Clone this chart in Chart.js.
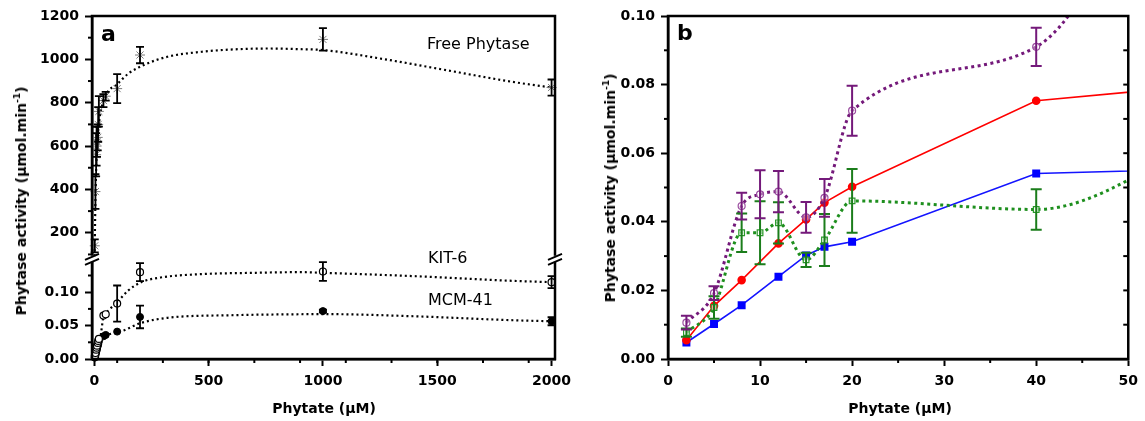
<!DOCTYPE html>
<html><head><meta charset="utf-8">
<script src="https://cdn.jsdelivr.net/npm/chart.js@4.4.1/dist/chart.umd.min.js"></script>
<style>
html,body{margin:0;padding:0;background:#fff}
body{width:1145px;height:421px;overflow:hidden;position:relative;font-family:'DejaVu Sans',sans-serif;color:#000}
#ca{position:absolute;left:0;top:0}
#cb{position:absolute;left:580px;top:0}
.t{position:absolute;white-space:nowrap;line-height:1;z-index:2}
.yt{font-weight:bold;font-size:14px;transform:translate(-50%,-50%) rotate(-90deg)}
.xt{font-weight:bold;font-size:14px;transform:translate(-50%,-50%)}
.yt sup{font-size:9px;vertical-align:6px;line-height:0}
.ann{font-size:16px}
.pl{font-size:22px;font-weight:bold}
</style></head><body>
<canvas id="ca" width="580" height="421"></canvas>
<canvas id="cb" width="565" height="421"></canvas>
<div class="t yt" style="left:21px;top:201px">Phytase activity (µmol.min<sup>-1</sup>)</div>
<div class="t yt" style="left:610px;top:188px">Phytase activity (µmol.min<sup>-1</sup>)</div>
<div class="t xt" style="left:324px;top:408px">Phytate (µM)</div>
<div class="t xt" style="left:900px;top:408px">Phytate (µM)</div>
<div class="t pl" style="left:101px;top:23px">a</div>
<div class="t pl" style="left:677px;top:22px">b</div>
<div class="t ann" style="left:427px;top:36px">Free Phytase</div>
<div class="t ann" style="left:428px;top:250px">KIT-6</div>
<div class="t ann" style="left:428px;top:292px">MCM-41</div>
<script>
// ---------- Panel a data ----------
const aX = [2,5,8,10,12,15,17,20,40,50,100,200,1000,2000];
const freeY = [140,390,560,600,620,640,700,760,810,830,865,1020,1092,870];
const freeErr = [30,80,100,90,70,60,80,70,30,20,67,38,52,37];
const kitY = [0.004,0.009,0.014,0.017,0.020,0.024,0.027,0.030,0.065,0.067,0.083,0.130,0.131,0.115];
const kitErr = [0,0,0,0,0,0,0,0,0,0,0.027,0.0135,0.014,0.009];
const mcmY = [0.002,0.005,0.009,0.012,0.015,0.019,0.022,0.026,0.034,0.036,0.041,0.063,0.0717,0.0565];
const mcmErr = [0,0,0,0,0,0,0,0,0,0,0,0.017,0.002,0.006];
const freeFitX = [0,5,10,20,50,100,150,230,320,470,610,760,900,1000,1250,1540,1830,2000];
const freeFitY = [0,350,550,700,830,885,935,980,1012,1035,1046,1050,1047,1043,1004,950,896,870];
const kitFitX = [0,20,30,40,60,100,150,205,290,466,700,900,1000,1400,1830,2000];
const kitFitY = [0,0.015,0.04,0.063,0.072,0.085,0.103,0.115,0.122,0.127,0.129,0.130,0.129,0.124,0.117,0.115];
const mcmFitX = [0,10,20,50,100,118,205,321,611,902,1000,1395,1832,2000];
const mcmFitY = [0,0.012,0.022,0.034,0.040,0.0414,0.054,0.0617,0.0656,0.067,0.0672,0.064,0.058,0.0565];
const aXTicks = [0,500,1000,1500,2000];

// ---------- Panel b data ----------
const rbX = [2,5,8,12,15,17,20,40,60];
const redY = [0.0055,0.0155,0.023,0.0337,0.0407,0.0456,0.0502,0.0753,0.0803];
const blueY = [0.0048,0.0102,0.0157,0.024,0.0302,0.0327,0.0342,0.0541,0.0555];
const pgX = [2,5,8,10,12,15,17,20,40,60];
const purpleY = [0.0106,0.0192,0.0446,0.048,0.0488,0.0413,0.047,0.0724,0.091,0.19];
const purpleErr = [0.002,0.002,0.0039,0.007,0.006,0.0045,0.0055,0.0073,0.0056,0];
const greenY = [0.0077,0.015,0.0368,0.0368,0.0397,0.0289,0.0347,0.0461,0.0436,0.0665];
const greenErr = [0.0012,0.0033,0.0056,0.0092,0.006,0.0021,0.0076,0.0093,0.0059,0];

const pts = (xs, ys) => xs.map((x, i) => ({x, y: ys[i]}));
const tickFont = {family: 'DejaVu Sans', size: 14, weight: 'bold'};

const errPlugin = {
  id: 'errbars',
  afterDatasetsDraw(chart, args, opts) {
    const ctx = chart.ctx, ca = chart.chartArea;
    (opts.sets || []).forEach(s => {
      const xs = chart.scales[s.x], ys = chart.scales[s.y];
      ctx.save();
      ctx.beginPath();
      const top = ys.top <= ca.top + 1 ? ca.top - 10 : ys.top;
      const bot = ys.bottom >= ca.bottom - 1 ? ca.bottom + 10 : ys.bottom;
      ctx.rect(ca.left - 10, top, ca.right - ca.left + 20, bot - top);
      ctx.clip();
      ctx.strokeStyle = s.color; ctx.lineWidth = s.width;
      s.xv.forEach((xv, i) => {
        const e = s.err[i]; if (!e) return;
        const px = xs.getPixelForValue(xv);
        const y1 = ys.getPixelForValue(s.yv[i] + e), y2 = ys.getPixelForValue(s.yv[i] - e);
        ctx.beginPath();
        ctx.moveTo(px, y1); ctx.lineTo(px, y2);
        ctx.moveTo(px - s.cap / 2, y1); ctx.lineTo(px + s.cap / 2, y1);
        ctx.moveTo(px - s.cap / 2, y2); ctx.lineTo(px + s.cap / 2, y2);
        ctx.stroke();
      });
      ctx.restore();
    });
  }
};

const minorPlugin = {
  id: 'minor',
  afterDraw(chart, args, opts) {
    const ctx = chart.ctx, ca = chart.chartArea;
    ctx.save(); ctx.strokeStyle = '#000'; ctx.lineWidth = 2;
    (opts.items || []).forEach(it => {
      const sc = chart.scales[it.scale];
      for (let k = 0; ; k++) {
        const v = it.from + k * it.step;
        if (v > it.to + 1e-9) break;
        const p = sc.getPixelForValue(v);
        ctx.beginPath();
        if (it.side === 'bottom') { ctx.moveTo(p, ca.bottom); ctx.lineTo(p, ca.bottom + it.len); }
        else if (it.side === 'left') { ctx.moveTo(ca.left, p); ctx.lineTo(ca.left - it.len, p); }
        else if (it.side === 'right') { ctx.moveTo(ca.right, p); ctx.lineTo(ca.right - it.len, p); }
        ctx.stroke();
      }
    });
    ctx.restore();
  }
};

const framePlugin = {
  id: 'frame',
  afterDraw(chart, args, opts) {
    const ctx = chart.ctx, ca = chart.chartArea;
    ctx.save(); ctx.strokeStyle = '#000'; ctx.lineWidth = 2.5;
    ctx.strokeRect(ca.left, ca.top, ca.right - ca.left, ca.bottom - ca.top);
    if (opts.breakScale) {
      const b = chart.scales[opts.breakScale].bottom;
      [ca.left, ca.right].forEach(x => {
        ctx.fillStyle = '#fff';
        ctx.fillRect(x - 3, b - 3, 6, 6);
        ctx.lineWidth = 2;
        ctx.beginPath();
        ctx.moveTo(x - 7, b + 1); ctx.lineTo(x + 7, b - 5);
        ctx.moveTo(x - 7, b + 6); ctx.lineTo(x + 7, b);
        ctx.stroke();
      });
    }
    ctx.restore();
  }
};

const segClip = {
  id: 'segclip',
  beforeDatasetDraw(chart, args) {
    const ys = args.meta.yScale, ca = chart.chartArea, ctx = chart.ctx;
    const top = ys.top <= ca.top + 1 ? ca.top - 10 : ys.top;
    const bot = ys.bottom >= ca.bottom - 1 ? ca.bottom + 10 : ys.bottom;
    ctx.save(); ctx.beginPath();
    ctx.rect(ca.left - 10, top, ca.right - ca.left + 20, bot - top); ctx.clip();
  },
  afterDatasetDraw(chart) { chart.ctx.restore(); }
};

const gridOpt = {drawOnChartArea: false, drawTicks: true, tickLength: 7, tickWidth: 2, tickColor: '#000'};
const borderOpt = {display: true, width: 2.5, color: '#000'};

// ---------- Chart a ----------
new Chart(document.getElementById('ca'), {
  type: 'scatter',
  data: {datasets: [
    {label: 'Free Phytase', yAxisID: 'yTop', data: pts(aX, freeY), pointStyle: 'star', pointRadius: 5, borderColor: '#7a7a7a', backgroundColor: '#7a7a7a', borderWidth: 1, clip: false},
    {label: 'KIT-6', yAxisID: 'yLow', data: pts(aX, kitY), pointStyle: 'circle', pointRadius: 3.5, borderColor: '#000', backgroundColor: '#fff', borderWidth: 1.2, clip: false},
    {label: 'MCM-41', yAxisID: 'yLow', data: pts(aX, mcmY), pointStyle: 'circle', pointRadius: 3.5, borderColor: '#000', backgroundColor: '#000', borderWidth: 1, clip: false},
    {label: 'Free fit', yAxisID: 'yTop', data: pts(freeFitX, freeFitY), showLine: true, pointRadius: 0, borderColor: '#000', borderWidth: 2.2, borderDash: [2, 3], cubicInterpolationMode: 'monotone', clip: false},
    {label: 'KIT fit', yAxisID: 'yLow', data: pts(kitFitX, kitFitY), showLine: true, pointRadius: 0, borderColor: '#000', borderWidth: 2.2, borderDash: [2, 3], cubicInterpolationMode: 'monotone', clip: false},
    {label: 'MCM fit', yAxisID: 'yLow', data: pts(mcmFitX, mcmFitY), showLine: true, pointRadius: 0, borderColor: '#000', borderWidth: 2.2, borderDash: [2, 3], cubicInterpolationMode: 'monotone', clip: false}
  ]},
  options: {
    responsive: false, animation: false, events: [],
    layout: {padding: {top: 16, right: 25, left: 0, bottom: 0}},
    plugins: {
      legend: {display: false}, tooltip: {enabled: false},
      errbars: {sets: [
        {x: 'x', y: 'yTop', xv: aX, yv: freeY, err: freeErr, color: '#000', width: 1.8, cap: 8},
        {x: 'x', y: 'yLow', xv: aX, yv: kitY, err: kitErr, color: '#000', width: 1.8, cap: 8},
        {x: 'x', y: 'yLow', xv: aX, yv: mcmY, err: mcmErr, color: '#000', width: 1.8, cap: 8}
      ]},
      minor: {items: [
        {scale: 'x', side: 'bottom', from: 100, to: 1900, step: 200, len: 4},
        {scale: 'yTop', side: 'left', from: 100, to: 1100, step: 200, len: 4},
        {scale: 'yLow', side: 'left', from: 0.025, to: 0.125, step: 0.05, len: 4}
      ]},
      frame: {breakScale: 'yTop'}
    },
    scales: {
      x: {type: 'linear', min: -10, max: 2015,
        afterBuildTicks: s => { s.ticks = aXTicks.map(v => ({value: v})); },
        afterFit: s => { s.height = 62; },
        ticks: {font: tickFont, color: '#000', padding: 7, maxRotation: 0, callback: v => String(v)},
        grid: gridOpt, border: borderOpt},
      yLow: {type: 'linear', position: 'left', stack: 'a', stackWeight: 100, min: 0, max: 0.15,
        afterBuildTicks: s => { s.ticks = s.ticks.filter(t => t.value < 0.12); },
        afterFit: s => { s.width = 92; },
        ticks: {stepSize: 0.05, includeBounds: false, font: tickFont, color: '#000', padding: 6, callback: v => Number(v).toFixed(2)},
        grid: gridOpt, border: borderOpt},
      yTop: {type: 'linear', position: 'left', stack: 'a', stackWeight: 242.3, min: 80, max: 1200,
        afterFit: s => { s.width = 92; },
        ticks: {stepSize: 200, includeBounds: false, font: tickFont, color: '#000', padding: 6, callback: v => String(v)},
        grid: gridOpt, border: borderOpt}
    }
  },
  plugins: [segClip, errPlugin, minorPlugin, framePlugin]
});

// ---------- Chart b ----------
new Chart(document.getElementById('cb'), {
  type: 'scatter',
  data: {datasets: [
    {label: 'KIT-6 (purple)', data: pts(pgX, purpleY), showLine: true, cubicInterpolationMode: 'monotone', borderColor: '#74197a', borderWidth: 3, borderDash: [3, 3.5],
      pointStyle: 'circle', pointRadius: 3.5, pointBorderColor: '#9b4ea0', pointBackgroundColor: 'rgba(255,255,255,0.4)', pointBorderWidth: 1.2},
    {label: 'MCM-41 (green)', data: pts(pgX, greenY), showLine: true, cubicInterpolationMode: 'monotone', borderColor: '#1e8f1e', borderWidth: 3, borderDash: [3, 3.5],
      pointStyle: 'rect', pointRadius: 4, pointBorderColor: '#2a9a2a', pointBackgroundColor: 'rgba(255,255,255,0.6)', pointBorderWidth: 1.2},
    {label: 'Red', data: pts(rbX, redY), showLine: true, borderColor: '#ff0000', borderWidth: 1.6,
      pointStyle: 'circle', pointRadius: 3.5, pointBorderColor: '#ff0000', pointBackgroundColor: '#ff0000'},
    {label: 'Blue', data: pts(rbX, blueY), showLine: true, borderColor: '#1414ff', borderWidth: 1.6,
      pointStyle: 'rect', pointRadius: 4.5, pointBorderColor: '#0000ff', pointBackgroundColor: '#0000ff'}
  ]},
  options: {
    responsive: false, animation: false, events: [],
    layout: {padding: {top: 16, right: 12, left: 0, bottom: 0}},
    plugins: {
      legend: {display: false}, tooltip: {enabled: false},
      errbars: {sets: [
        {x: 'x', y: 'y', xv: pgX, yv: greenY, err: greenErr, color: '#1b7d1b', width: 2, cap: 11},
        {x: 'x', y: 'y', xv: pgX, yv: purpleY, err: purpleErr, color: '#74197a', width: 2, cap: 11}
      ]},
      minor: {items: [
        {scale: 'x', side: 'bottom', from: 5, to: 45, step: 10, len: 4},
        {scale: 'y', side: 'left', from: 0.01, to: 0.09, step: 0.02, len: 4},
        {scale: 'y', side: 'right', from: 0.01, to: 0.09, step: 0.01, len: 5}
      ]},
      frame: {}
    },
    scales: {
      x: {type: 'linear', min: 0, max: 50,
        afterFit: s => { s.height = 62; },
        ticks: {stepSize: 10, font: tickFont, color: '#000', padding: 7, maxRotation: 0},
        grid: gridOpt, border: borderOpt},
      y: {type: 'linear', min: 0, max: 0.1,
        afterFit: s => { s.width = 88; },
        ticks: {stepSize: 0.02, font: tickFont, color: '#000', padding: 6, callback: v => Number(v).toFixed(2)},
        grid: gridOpt, border: borderOpt}
    }
  },
  plugins: [errPlugin, minorPlugin, framePlugin]
});
</script>
</body></html>
